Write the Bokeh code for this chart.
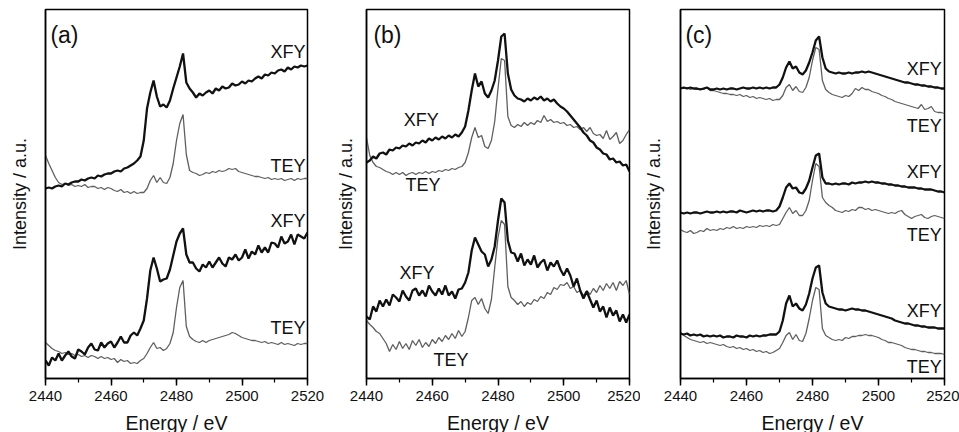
from bokeh.plotting import figure
from bokeh.layouts import row
from bokeh.models import Range1d, SingleIntervalTicker, FixedTicker, Label
from bokeh.embed import file_html
from bokeh.resources import INLINE

# Photon energy grid (eV)
energy = list(range(2440, 2521))

# ---- panel (a) ----
a_xfy_top = [190, 191, 190, 192, 193, 192, 195, 194, 196, 197,
             197, 199, 198, 200, 201, 200, 203, 202, 204, 205,
             205, 207, 208, 207, 210, 211, 213, 215, 218, 222,
             238, 270, 286, 298, 282, 272, 274, 271, 278, 290,
             301, 312, 325, 296, 290, 286, 281, 285, 283, 286,
             288, 285, 290, 288, 292, 290, 291, 295, 293, 294,
             297, 295, 298, 297, 300, 302, 300, 304, 303, 306,
             305, 308, 309, 307, 311, 309, 312, 311, 313, 312,
             313]
a_tey_top = [223, 215, 208, 201, 196, 194, 195, 193, 194, 192,
             193, 192, 194, 191, 192, 192, 190, 191, 189, 191,
             190, 188, 187, 189, 186, 187, 185, 187, 185, 186,
             186, 190, 198, 203, 196, 201, 196, 195, 201, 215,
             238, 255, 264, 224, 208, 206, 205, 203, 204, 206,
             205, 207, 206, 208, 207, 208, 210, 209, 210, 207,
             206, 205, 204, 203, 202, 202, 201, 200, 201, 199,
             200, 199, 200, 198, 199, 200, 198, 200, 199, 200,
             200]
a_xfy_bot = [18, 13, 21, 18, 25, 18, 23, 27, 22, 20,
             29, 27, 24, 31, 35, 29, 28, 36, 31, 35,
             37, 31, 36, 42, 36, 36, 43, 46, 43, 50,
             58, 80, 108, 121, 110, 97, 99, 100, 109, 123,
             137, 145, 150, 124, 116, 116, 110, 107, 114, 111,
             117, 111, 116, 121, 115, 112, 121, 119, 124, 118,
             121, 129, 120, 127, 124, 133, 126, 131, 126, 136,
             135, 131, 142, 135, 137, 144, 134, 144, 142, 140,
             146]
a_tey_bot = [36, 33, 30, 28, 27, 25, 26, 24, 25, 23,
             24, 22, 23, 21, 23, 22, 20, 22, 20, 21,
             19, 20, 16, 19, 17, 18, 15, 16, 15, 18,
             20, 25, 31, 36, 30, 31, 28, 30, 35, 46,
             71, 91, 98, 52, 42, 39, 37, 36, 38, 36,
             38, 39, 40, 41, 42, 43, 44, 46, 45, 43,
             41, 40, 39, 38, 38, 37, 36, 37, 35, 36,
             35, 34, 36, 34, 35, 34, 33, 35, 34, 35,
             35]

# ---- panel (b) ----
b_xfy_top = [216, 218, 222, 220, 225, 226, 224, 229, 228, 231,
             230, 233, 232, 235, 233, 236, 235, 238, 236, 240,
             238, 241, 239, 242, 240, 243, 241, 244, 242, 246,
             252, 268, 288, 305, 292, 297, 285, 281, 288, 298,
             318, 342, 345, 305, 289, 283, 280, 279, 277, 280,
             278, 281, 279, 282, 278, 280, 277, 279, 275, 272,
             270, 267, 263, 259, 255, 251, 246, 243, 238, 236,
             231, 229, 225, 224, 219, 220, 216, 217, 213, 214,
             207]
b_tey_top = [241, 223, 216, 212, 211, 209, 207, 206, 204, 206,
             204, 206, 203, 205, 206, 204, 206, 205, 207, 205,
             207, 206, 208, 207, 209, 208, 210, 209, 211, 212,
             216, 226, 241, 251, 241, 243, 232, 230, 238, 257,
             290, 320, 318, 262, 253, 251, 254, 252, 256, 253,
             256, 254, 258, 256, 263, 257, 259, 256, 257, 255,
             256, 253, 254, 251, 252, 249, 251, 247, 251, 245,
             243, 244, 240, 248, 239, 242, 246, 235, 238, 244,
             249]
b_xfy_bot = [62, 59, 72, 67, 78, 72, 79, 73, 84, 81,
             77, 88, 82, 78, 88, 90, 83, 88, 82, 93,
             87, 83, 90, 84, 93, 83, 87, 80, 89, 90,
             96, 106, 128, 141, 134, 127, 124, 112, 119, 132,
             158, 180, 176, 138, 126, 125, 117, 125, 113, 119,
             114, 123, 111, 116, 119, 108, 116, 112, 118, 109,
             103, 110, 103, 92, 100, 88, 80, 87, 79, 71,
             78, 67, 72, 61, 71, 63, 68, 57, 64, 56,
             64]
b_tey_bot = [58, 54, 51, 47, 45, 40, 35, 27, 34, 29,
             37, 30, 35, 29, 38, 33, 39, 31, 36, 32,
             39, 35, 41, 37, 43, 39, 45, 40, 48, 42,
             47, 61, 78, 81, 74, 80, 70, 65, 79, 111,
             141, 158, 154, 92, 81, 78, 74, 77, 72, 76,
             74, 79, 77, 82, 80, 86, 84, 91, 89, 94,
             93, 96, 90, 92, 86, 88, 83, 88, 84, 90,
             86, 93, 88, 95, 90, 96, 88, 97, 93, 98,
             84]

# ---- panel (c) ----
c_xfy_1 = [290, 291, 290, 291, 290, 290, 289, 290, 291, 289,
           289, 290, 289, 290, 289, 290, 290, 289, 290, 291,
           290, 290, 291, 290, 291, 290, 291, 290, 291, 291,
           294, 301, 311, 317, 310, 312, 306, 304, 308, 316,
           326, 338, 342, 321, 310, 307, 306, 305, 306, 305,
           305, 306, 305, 306, 306, 307, 306, 307, 306, 305,
           304, 303, 302, 301, 300, 299, 298, 297, 296, 296,
           295, 294, 294, 293, 293, 292, 292, 291, 291, 290,
           290]
c_tey_1 = [291, 290, 291, 289, 290, 289, 290, 289, 291, 288,
           288, 287, 286, 285, 285, 284, 284, 283, 284, 282,
           283, 281, 282, 280, 281, 280, 279, 280, 278, 279,
           279, 283, 291, 294, 288, 292, 287, 286, 291, 301,
           318, 331, 329, 298, 289, 286, 284, 283, 282, 281,
           283, 282, 285, 290, 288, 291, 289, 289, 287, 286,
           285, 283, 282, 280, 279, 277, 276, 275, 274, 273,
           272, 271, 270, 274, 269, 270, 272, 267, 266, 266,
           265]
c_xfy_2 = [166, 165, 166, 165, 166, 166, 165, 166, 167, 166,
           166, 167, 166, 167, 166, 167, 167, 166, 168, 167,
           166, 167, 168, 167, 168, 167, 168, 168, 167, 168,
           172, 181, 191, 195, 190, 191, 186, 185, 190, 198,
           211, 223, 225, 201, 195, 195, 194, 195, 194, 195,
           195, 194, 196, 195, 196, 196, 197, 196, 197, 196,
           196, 195, 195, 194, 194, 193, 193, 192, 192, 191,
           191, 191, 190, 190, 189, 189, 189, 188, 187, 187,
           186]
c_tey_2 = [149, 147, 146, 148, 145, 146, 148, 147, 150, 148,
           149, 148, 150, 149, 151, 150, 152, 150, 151, 150,
           152, 151, 152, 151, 153, 152, 153, 152, 154, 153,
           154, 160, 166, 171, 165, 168, 163, 163, 168, 178,
           198, 215, 212, 181, 176, 173, 171, 168, 167, 166,
           168, 167, 169, 168, 171, 171, 169, 170, 168, 169,
           168, 167, 166, 165, 166, 165, 167, 168, 164, 162,
           160, 162, 163, 164, 161, 160, 162, 163, 162, 161,
           160]
c_xfy_3 = [45, 44, 45, 43, 44, 43, 44, 42, 43, 42,
           43, 42, 43, 41, 42, 42, 41, 43, 42, 42,
           41, 43, 42, 43, 42, 43, 43, 44, 44, 44,
           47, 58, 75, 83, 72, 75, 70, 68, 74, 85,
           100, 111, 113, 86, 75, 72, 71, 70, 69, 69,
           68, 69, 70, 69, 69, 68, 68, 67, 66, 65,
           64, 63, 62, 61, 60, 58, 57, 56, 55, 55,
           54, 53, 53, 52, 52, 51, 51, 51, 50, 50,
           50]
c_tey_3 = [46, 43, 41, 39, 38, 37, 36, 37, 35, 36,
           35, 34, 33, 34, 32, 31, 32, 30, 31, 29,
           30, 28, 29, 27, 28, 26, 27, 25, 26, 28,
           30, 36, 43, 46, 39, 44, 38, 37, 45, 60,
           78, 91, 89, 50, 43, 41, 39, 38, 39, 38,
           41, 40, 42, 42, 43, 43, 44, 43, 43, 42,
           41, 39, 38, 36, 36, 35, 34, 33, 31, 30,
           29, 29, 28, 27, 27, 26, 26, 25, 25, 25,
           24]

# Curve labels: (text, x, y, align)
a_labels = [("XFY", 2519.4, 327, "right"), ("TEY", 2519.4, 213, "right"),
            ("XFY", 2519.4, 158, "right"), ("TEY", 2519.4, 51, "right")]
b_labels = [("XFY", 2451.3, 259, "left"), ("TEY", 2451.9, 194, "left"),
            ("XFY", 2450.0, 106, "left"), ("TEY", 2460.4, 19, "left")]
c_labels = [("XFY", 2519.2, 310, "right"), ("TEY", 2519.2, 253, "right"),
            ("XFY", 2519.2, 207, "right"), ("TEY", 2519.2, 144, "right"),
            ("XFY", 2519.2, 68, "right"), ("TEY", 2519.2, 12, "right")]

FONT = "Liberation Sans"
XFY_COLOR = "#111111"
TEY_COLOR = "#5f5f5f"


def make_panel(tag, tag_x, xfy_list, tey_list, labels, bl, br, fw, ystand):
    p = figure(frame_width=fw, frame_height=369,
               x_range=Range1d(2440, 2520), y_range=Range1d(0, 369),
               output_backend="svg", toolbar_location=None,
               min_border_left=bl, min_border_right=br,
               min_border_top=9, min_border_bottom=54,
               background_fill_color="white", border_fill_color="white")
    p.grid.visible = False
    p.outline_line_color = "black"
    p.outline_line_width = 1.5
    p.outline_line_alpha = 1.0

    xa = p.xaxis[0]
    xa.ticker = SingleIntervalTicker(interval=20, num_minor_ticks=2)
    xa.axis_line_width = 1.5
    xa.major_tick_in = 0
    xa.major_tick_out = 7
    xa.minor_tick_in = 0
    xa.minor_tick_out = 4
    xa.major_tick_line_width = 1.5
    xa.minor_tick_line_width = 1.2
    xa.major_label_text_font = FONT
    xa.major_label_text_font_size = "15px"
    xa.major_label_text_color = "#111111"
    xa.major_label_standoff = 5
    xa.axis_label = "Energy / eV"
    xa.axis_label_text_font = FONT
    xa.axis_label_text_font_size = "19.5px"
    xa.axis_label_text_font_style = "normal"
    xa.axis_label_text_color = "#111111"
    xa.axis_label_standoff = 8

    ya = p.yaxis[0]
    ya.ticker = FixedTicker(ticks=[])
    ya.axis_line_width = 1.5
    ya.major_tick_out = 0
    ya.minor_tick_out = 0
    ya.axis_label = "Intensity / a.u."
    ya.axis_label_text_font = FONT
    ya.axis_label_text_font_size = "18px"
    ya.axis_label_text_font_style = "normal"
    ya.axis_label_text_color = "#111111"
    ya.axis_label_standoff = ystand

    for tey in tey_list:
        p.line(energy, tey, line_color=TEY_COLOR, line_width=1.3)
    for xfy in xfy_list:
        p.line(energy, xfy, line_color=XFY_COLOR, line_width=2.3)

    for text, x, y, align in labels:
        p.add_layout(Label(x=x, y=y, text=text, text_font=FONT,
                           text_font_size="18px", text_align=align,
                           text_baseline="middle", text_color="#111111"))
    p.add_layout(Label(x=tag_x, y=344, text=tag, text_font=FONT,
                       text_font_size="23px", text_align="left",
                       text_baseline="middle", text_color="#111111"))
    return p


pa = make_panel("(a)", 2441.5, [a_xfy_top, a_xfy_bot], [a_tey_top, a_tey_bot],
                a_labels, 45, 23, 262, 16)
pb = make_panel("(b)", 2442.1, [b_xfy_top, b_xfy_bot], [b_tey_top, b_tey_bot],
                b_labels, 36, 11, 263, 11)
pc = make_panel("(c)", 2441.5, [c_xfy_1, c_xfy_2, c_xfy_3], [c_tey_1, c_tey_2, c_tey_3],
                c_labels, 40, 15, 264, 17)

layout = row(pa, pb, pc, spacing=0)
open("out.html", "w").write(file_html(layout, INLINE))
